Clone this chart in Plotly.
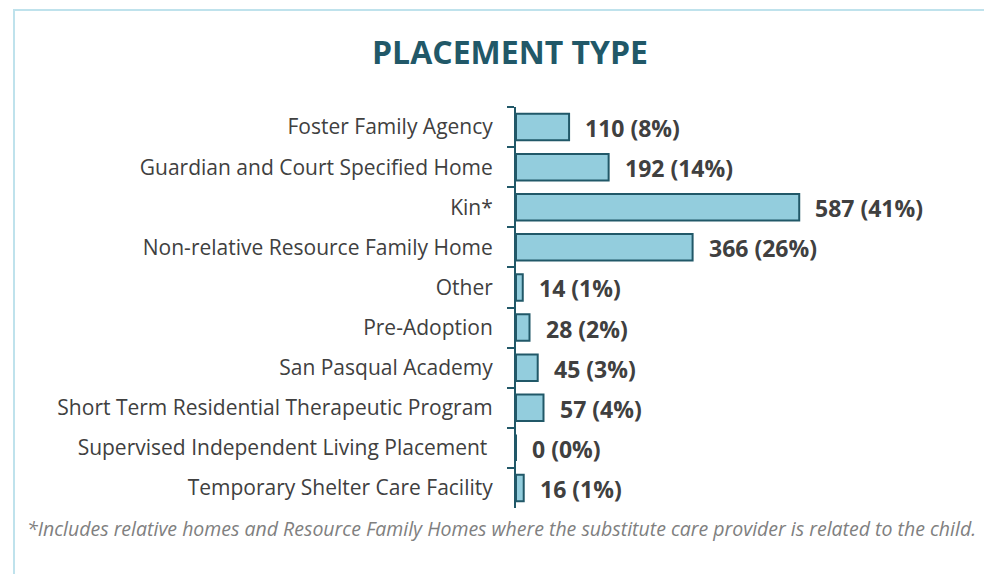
"""Placement type horizontal bar chart."""

import plotly.graph_objects as go

categories = [
    "Foster Family Agency",
    "Guardian and Court Specified Home",
    "Kin*",
    "Non-relative Resource Family Home",
    "Other",
    "Pre-Adoption",
    "San Pasqual Academy",
    "Short Term Residential Therapeutic Program",
    "Supervised Independent Living Placement ",
    "Temporary Shelter Care Facility",
]
counts = [110, 192, 587, 366, 14, 28, 45, 57, 0, 16]
percents = [8, 14, 41, 26, 1, 2, 3, 4, 0, 1]
footnote = ("*Includes relative homes and Resource Family Homes where the "
            "substitute care provider is related to the child.")

W, H = 984, 574
L, R, T, B = 516, 82, 107, 66
pw, ph = W - L - R, H - T - B


def px_x(x):
    return (x - L) / pw


def px_y(y):
    return (H - B - y) / ph


fig = go.Figure(
    go.Bar(
        x=counts,
        y=categories,
        orientation="h",
        marker=dict(color="#93CDDD", line=dict(color="#215868", width=2)),
        width=0.66,
        hoverinfo="x+y",
    )
)

for cat, n, p in zip(categories, counts, percents):
    fig.add_annotation(
        x=n, y=cat, text=f"<b>{n} ({p}%)</b>", showarrow=False,
        xanchor="left", xshift=14, yshift=-1,
        font=dict(family="Open Sans", size=23, color="#404040"),
    )

fig.add_annotation(
    xref="paper", yref="paper", x=px_x(501), y=px_y(528),
    text=f"<i>{footnote}</i>", showarrow=False, xanchor="center", yanchor="middle",
    font=dict(family="Open Sans", size=19.5, color="#808080"),
)

fig.add_shape(
    type="rect", xref="paper", yref="paper",
    x0=px_x(14), x1=px_x(1000), y0=px_y(590), y1=px_y(10),
    line=dict(color="#BFE2EC", width=2), fillcolor="rgba(0,0,0,0)", layer="below",
)

fig.update_layout(
    width=W, height=H,
    margin=dict(l=L, r=R, t=T, b=B),
    paper_bgcolor="white", plot_bgcolor="white",
    showlegend=False,
    title=dict(
        text="<b>PLACEMENT TYPE</b>", xref="container", yref="container",
        x=510 / W, y=1 - 53 / H, xanchor="center", yanchor="middle",
        font=dict(family="Open Sans", size=32, color="#215868"),
    ),
    xaxis=dict(range=[0, 800], visible=False, fixedrange=True),
    yaxis=dict(
        autorange="reversed", showline=True, linecolor="#215868", linewidth=2,
        ticks="outside", ticklen=7, tickcolor="#215868", tickwidth=2,
        tickson="boundaries", showgrid=False, ticklabelstandoff=17,
        tickfont=dict(family="Open Sans", size=21, color="#404040"),
    ),
    bargap=0.34,
)

# drop the default body margin so the figure fills the window exactly
fig.write_html(
    "out.html",
    config={"displayModeBar": False},
    post_script="document.body.style.margin = '0';",
)
